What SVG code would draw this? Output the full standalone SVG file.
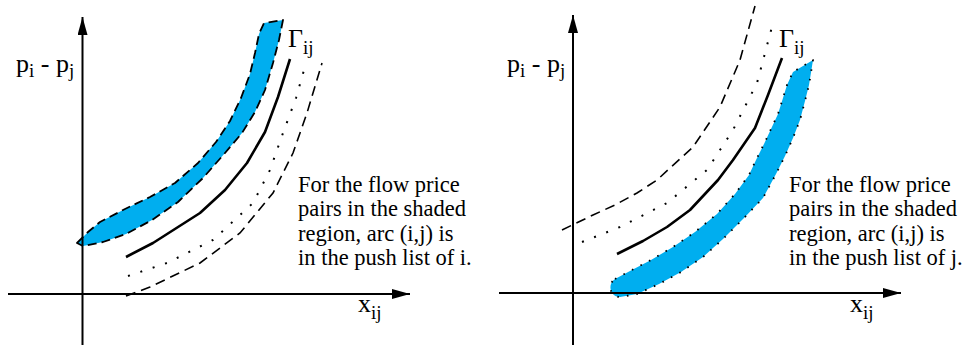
<svg xmlns="http://www.w3.org/2000/svg" width="964" height="347" viewBox="0 0 964 347">
<style>
text{font-family:"Liberation Serif","Times New Roman",serif;fill:#000}
.lbl{font-size:26px}
.sub{font-size:19px}
.body{font-size:22.5px}
.axis{stroke:#000;stroke-width:2;fill:none}
.solid{stroke:#000;stroke-width:2.6;fill:none;stroke-linejoin:round}
.dot{stroke:#000;stroke-width:2;fill:none;stroke-dasharray:2 11}
.dash{stroke:#000;stroke-width:1.6;fill:none;stroke-dasharray:10 6}
.bandL{fill:#00aeef;stroke:#000;stroke-width:1.8;stroke-dasharray:9 5;stroke-linejoin:round}
.bandR{fill:#00aeef;stroke:#000;stroke-width:1.8;stroke-dasharray:1.6 8;stroke-linejoin:round}
</style>
<defs>
<marker id="ah" viewBox="0 0 18 10" refX="18" refY="5" markerWidth="18" markerHeight="10" markerUnits="userSpaceOnUse" orient="auto">
<path d="M0,0 L18,5 L0,10 Z" fill="#000"/>
</marker>
</defs>
<rect width="964" height="347" fill="#fff"/>

<g id="left-panel">
<g id="left-band">
<path class="bandL" d="M77,243 L88,232 L100,222 L125,209 L150,197 L175,183 L198,163 L216,142 L230,121 L241,98 L250,74 L255,53 L259,34 L264,23 L283,20 L279,40 L273,63 L265,90 L255,112 L242,133 L225,153 L203,178 L178,202 L152,220 L126,234 L103,242 L83,246 Z"/>
</g>
<g id="left-connectors">
<line class="axis" x1="82.5" y1="345" x2="82.5" y2="17" marker-end="url(#ah)"/>
<line class="axis" x1="8" y1="294" x2="410" y2="294" marker-end="url(#ah)"/>
<polyline class="solid" points="126,257 153,243 200,213 225,190 247,163 265,132 278,97 290,59"/>
<polyline class="dot" points="128,276 167,263 213,240 253,203 270,170 283,133 296,98 306,63"/>
<polyline class="dash" points="126,296 150,287 200,263 240,233 273,193 293,153 307,113 322,63"/>
</g>
<g id="left-labels">
<text class="lbl" x="16" y="72">p<tspan class="sub" dy="5">i</tspan><tspan dy="-5"> - p</tspan><tspan class="sub" dy="5">j</tspan></text>
<text class="lbl" x="288" y="47">Γ<tspan class="sub" dy="7">ij</tspan></text>
<text class="lbl" x="358" y="312">x<tspan class="sub" dy="7">ij</tspan></text>
<text class="body" x="298" y="192">For the flow price</text>
<text class="body" x="298" y="216">pairs in the shaded</text>
<text class="body" x="298" y="241">region, arc (i,j) is</text>
<text class="body" x="298" y="265">in the push list of i.</text>
</g>
</g>

<g id="right-panel">
<g id="right-band">
<path class="bandR" d="M615,279 L630,271 L651,260 L673,247 L695,232 L717,214 L735,194 L749,175 L756,160 L764,144 L771,129 L778,114 L783,98 L787,85 L793,72 L813,60 L809,85 L805,101 L800,120 L793,138 L785,156 L776,174 L763,198 L745,217 L723,239 L703,257 L681,272 L659,284 L637,294 L620,297 C610,297 607,284 615,279 Z"/>
</g>
<g id="right-connectors">
<line class="axis" x1="573" y1="345" x2="573" y2="15" marker-end="url(#ah)"/>
<line class="axis" x1="499" y1="293" x2="901" y2="293" marker-end="url(#ah)"/>
<polyline class="solid" points="617,254 643,241 667,227 690,210 718,180 733,160 755,128 768,95 782,58"/>
<polyline class="dot" points="582,242 620,227 667,203 707,170 733,130 757,83 773,23"/>
<polyline class="dash" points="562,230 593,215 615,205 637,193 657,180 693,147 720,107 740,60 755,6"/>
</g>
<g id="right-labels">
<text class="lbl" x="507" y="72">p<tspan class="sub" dy="5">i</tspan><tspan dy="-5"> - p</tspan><tspan class="sub" dy="5">j</tspan></text>
<text class="lbl" x="779" y="47">Γ<tspan class="sub" dy="7">ij</tspan></text>
<text class="lbl" x="850" y="312">x<tspan class="sub" dy="7">ij</tspan></text>
<text class="body" x="789" y="192">For the flow price</text>
<text class="body" x="789" y="216">pairs in the shaded</text>
<text class="body" x="789" y="241">region, arc (i,j) is</text>
<text class="body" x="789" y="265">in the push list of j.</text>
</g>
</g>
</svg>
